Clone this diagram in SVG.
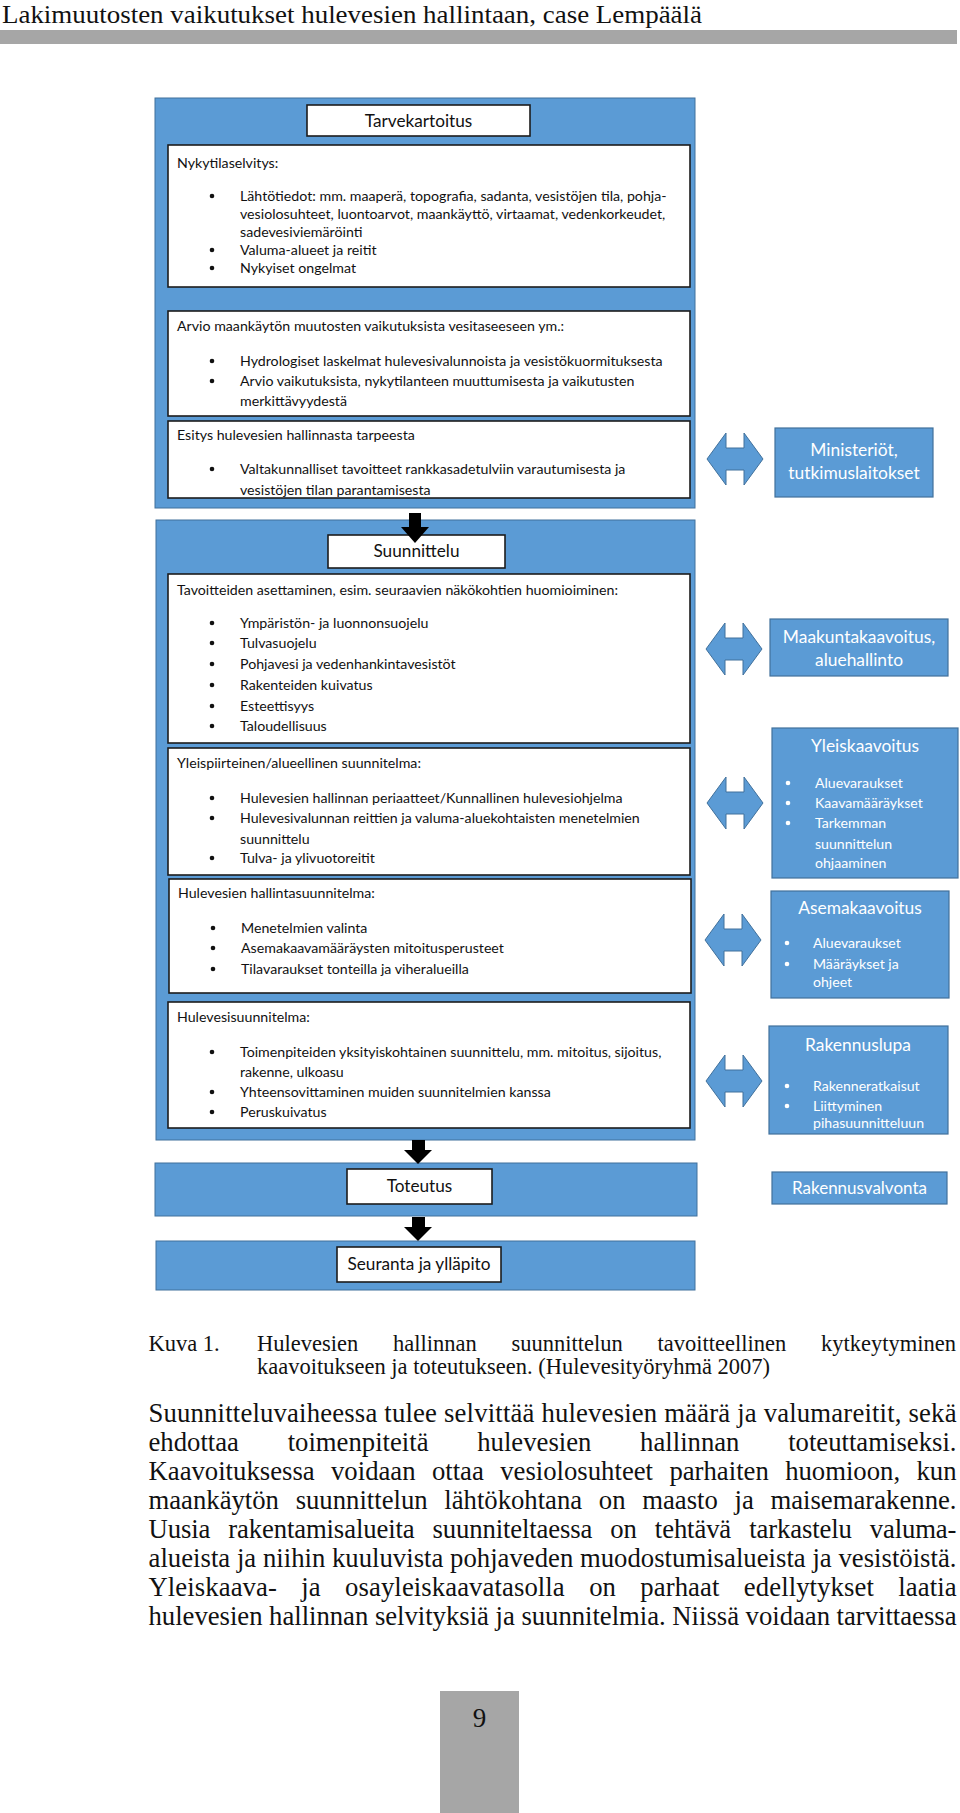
<svg xmlns="http://www.w3.org/2000/svg" width="960" height="1813" viewBox="0 0 960 1813">
<style>
.pg{fill:#ffffff}
.panel{fill:#5b9bd5;stroke:#41719c;stroke-width:1}
.box{fill:#ffffff;stroke:#1c1c1c;stroke-width:1.6}
.rbox{fill:#5b9bd5;stroke:#41719c;stroke-width:1.2}
.dbl{fill:#5b9bd5;stroke:#41719c;stroke-width:1}
.blk{fill:#000000}
.t{font-family:Lato,"Carlito","Liberation Sans",sans-serif;font-size:14.2px;fill:#111111}
.th{font-family:Lato,"Carlito","Liberation Sans",sans-serif;font-size:17.2px;fill:#111111;text-anchor:middle}
.rh{font-family:Lato,"Carlito","Liberation Sans",sans-serif;font-size:17.4px;fill:#ffffff;text-anchor:middle}
.rt{font-family:Lato,"Carlito","Liberation Sans",sans-serif;font-size:14.1px;fill:#ffffff}
.bul{fill:#111111}
.wb{fill:#ffffff}
.serif{font-family:"Liberation Serif","Times New Roman",serif;fill:#111111}
.hdr{font-size:26px}
.cap{font-size:22.5px}
.body{font-size:26.7px}
.gray{fill:#a6a6a6}
</style>
<defs>
<path id="dblarrow" d="M -28 0 L -9 -26 L -9 -11 L 9 -11 L 9 -26 L 28 0 L 9 26 L 9 11 L -9 11 L -9 26 Z"/>
<clipPath id="clipEsitys"><rect x="168" y="421" width="522" height="76"/></clipPath>
<clipPath id="clipRak"><rect x="769" y="1026" width="179" height="105"/></clipPath>
</defs>
<rect class="pg" x="0" y="0" width="960" height="1813"/>

<g id="page-header">
<text class="serif hdr" x="2" y="23" textLength="700" lengthAdjust="spacingAndGlyphs">Lakimuutosten vaikutukset hulevesien hallintaan, case Lempäälä</text>
<rect class="gray" x="0" y="30" width="957" height="14"/>
</g>

<g id="panel-tarvekartoitus">
<rect class="panel" x="155" y="98" width="540" height="410"/>
<rect class="box" x="307" y="105" width="223" height="31"/>
<text class="th" x="418.5" y="127">Tarvekartoitus</text>
</g>

<g id="node-nykytila">
<rect class="box" x="168" y="145" width="522" height="142"/>
<text class="t" x="177" y="168">Nykytilaselvitys:</text>
<circle class="bul" cx="212" cy="196" r="2.3"/>
<text class="t" x="240" y="201">Lähtötiedot: mm. maaperä, topografia, sadanta, vesistöjen tila, pohja-</text>
<text class="t" x="240" y="219">vesiolosuhteet, luontoarvot, maankäyttö, virtaamat, vedenkorkeudet,</text>
<text class="t" x="240" y="237">sadevesiviemäröinti</text>
<circle class="bul" cx="212" cy="250" r="2.3"/>
<text class="t" x="240" y="255">Valuma-alueet ja reitit</text>
<circle class="bul" cx="212" cy="268" r="2.3"/>
<text class="t" x="240" y="273">Nykyiset ongelmat</text>
</g>

<g id="node-arvio">
<rect class="box" x="168" y="311" width="522" height="105"/>
<text class="t" x="177" y="331">Arvio maankäytön muutosten vaikutuksista vesitaseeseen ym.:</text>
<circle class="bul" cx="212" cy="361" r="2.3"/>
<text class="t" x="240" y="366">Hydrologiset laskelmat hulevesivalunnoista ja vesistökuormituksesta</text>
<circle class="bul" cx="212" cy="381" r="2.3"/>
<text class="t" x="240" y="386">Arvio vaikutuksista, nykytilanteen muuttumisesta ja vaikutusten</text>
<text class="t" x="240" y="406">merkittävyydestä</text>
</g>

<g id="node-esitys">
<rect class="box" x="168" y="421" width="522" height="77"/>
<text class="t" x="177" y="440">Esitys hulevesien hallinnasta tarpeesta</text>
<circle class="bul" cx="212" cy="469" r="2.3"/>
<text class="t" x="240" y="474">Valtakunnalliset tavoitteet rankkasadetulviin varautumisesta ja</text>
<text class="t" x="240" y="495" clip-path="url(#clipEsitys)">vesistöjen tilan parantamisesta</text>
</g>

<g id="node-ministeriot">
<rect class="rbox" x="775" y="428" width="158" height="69"/>
<text class="rh" x="854" y="456">Ministeriöt,</text>
<text class="rh" x="854" y="479">tutkimuslaitokset</text>
</g>

<g id="panel-suunnittelu">
<rect class="panel" x="156" y="520" width="539" height="620"/>
<rect class="box" x="328" y="535" width="177" height="33"/>
<text class="th" x="416.5" y="557">Suunnittelu</text>
</g>

<g id="node-tavoitteet">
<rect class="box" x="168" y="574" width="522" height="169"/>
<text class="t" x="177" y="595">Tavoitteiden asettaminen, esim. seuraavien näkökohtien huomioiminen:</text>
<circle class="bul" cx="212" cy="623" r="2.3"/>
<text class="t" x="240" y="628">Ympäristön- ja luonnonsuojelu</text>
<circle class="bul" cx="212" cy="643" r="2.3"/>
<text class="t" x="240" y="648">Tulvasuojelu</text>
<circle class="bul" cx="212" cy="664" r="2.3"/>
<text class="t" x="240" y="669">Pohjavesi ja vedenhankintavesistöt</text>
<circle class="bul" cx="212" cy="685" r="2.3"/>
<text class="t" x="240" y="690">Rakenteiden kuivatus</text>
<circle class="bul" cx="212" cy="706" r="2.3"/>
<text class="t" x="240" y="711">Esteettisyys</text>
<circle class="bul" cx="212" cy="726" r="2.3"/>
<text class="t" x="240" y="731">Taloudellisuus</text>
</g>

<g id="node-yleispiirteinen">
<rect class="box" x="168" y="748" width="522" height="127"/>
<text class="t" x="177" y="768">Yleispiirteinen/alueellinen suunnitelma:</text>
<circle class="bul" cx="212" cy="798" r="2.3"/>
<text class="t" x="240" y="803">Hulevesien hallinnan periaatteet/Kunnallinen hulevesiohjelma</text>
<circle class="bul" cx="212" cy="818" r="2.3"/>
<text class="t" x="240" y="823">Hulevesivalunnan reittien ja valuma-aluekohtaisten menetelmien</text>
<text class="t" x="240" y="844">suunnittelu</text>
<circle class="bul" cx="212" cy="858" r="2.3"/>
<text class="t" x="240" y="863">Tulva- ja ylivuotoreitit</text>
</g>

<g id="node-hallintasuunnitelma">
<rect class="box" x="169" y="879" width="522" height="114"/>
<text class="t" x="178" y="898">Hulevesien hallintasuunnitelma:</text>
<circle class="bul" cx="213" cy="928" r="2.3"/>
<text class="t" x="241" y="933">Menetelmien valinta</text>
<circle class="bul" cx="213" cy="948" r="2.3"/>
<text class="t" x="241" y="953">Asemakaavamääräysten mitoitusperusteet</text>
<circle class="bul" cx="213" cy="969" r="2.3"/>
<text class="t" x="241" y="974">Tilavaraukset tonteilla ja viheralueilla</text>
</g>

<g id="node-hulevesisuunnitelma">
<rect class="box" x="168" y="1002" width="522" height="126"/>
<text class="t" x="177" y="1022">Hulevesisuunnitelma:</text>
<circle class="bul" cx="212" cy="1052" r="2.3"/>
<text class="t" x="240" y="1057">Toimenpiteiden yksityiskohtainen suunnittelu, mm. mitoitus, sijoitus,</text>
<text class="t" x="240" y="1077">rakenne, ulkoasu</text>
<circle class="bul" cx="212" cy="1092" r="2.3"/>
<text class="t" x="240" y="1097">Yhteensovittaminen muiden suunnitelmien kanssa</text>
<circle class="bul" cx="212" cy="1112" r="2.3"/>
<text class="t" x="240" y="1117">Peruskuivatus</text>
</g>

<g id="node-maakunta">
<rect class="rbox" x="770" y="619" width="178" height="57"/>
<text class="rh" x="859" y="643">Maakuntakaavoitus,</text>
<text class="rh" x="859" y="666">aluehallinto</text>
</g>

<g id="node-yleiskaavoitus">
<rect class="rbox" x="772" y="728" width="186" height="150"/>
<text class="rh" x="865" y="752">Yleiskaavoitus</text>
<circle class="wb" cx="788" cy="783" r="2.3"/>
<text class="rt" x="815" y="788">Aluevaraukset</text>
<circle class="wb" cx="788" cy="803" r="2.3"/>
<text class="rt" x="815" y="808">Kaavamääräykset</text>
<circle class="wb" cx="788" cy="823" r="2.3"/>
<text class="rt" x="815" y="828">Tarkemman</text>
<text class="rt" x="815" y="849">suunnittelun</text>
<text class="rt" x="815" y="868">ohjaaminen</text>
</g>

<g id="node-asemakaavoitus">
<rect class="rbox" x="771" y="891" width="178" height="107"/>
<text class="rh" x="860" y="914">Asemakaavoitus</text>
<circle class="wb" cx="787" cy="943" r="2.3"/>
<text class="rt" x="813" y="948">Aluevaraukset</text>
<circle class="wb" cx="787" cy="964" r="2.3"/>
<text class="rt" x="813" y="969">Määräykset ja</text>
<text class="rt" x="813" y="987">ohjeet</text>
</g>

<g id="node-rakennuslupa">
<rect class="rbox" x="769" y="1026" width="179" height="108"/>
<text class="rh" x="858" y="1051">Rakennuslupa</text>
<circle class="wb" cx="787" cy="1086" r="2.3"/>
<text class="rt" x="813" y="1091">Rakenneratkaisut</text>
<circle class="wb" cx="787" cy="1106" r="2.3"/>
<text class="rt" x="813" y="1111">Liittyminen</text>
<text class="rt" x="813" y="1128" clip-path="url(#clipRak)">pihasuunnitteluun</text>
</g>

<g id="panel-toteutus">
<rect class="panel" x="155" y="1163" width="542" height="53"/>
<rect class="box" x="347" y="1169" width="145" height="35"/>
<text class="th" x="419.5" y="1192">Toteutus</text>
</g>

<g id="node-rakennusvalvonta">
<rect class="rbox" x="772" y="1172" width="175" height="32"/>
<text class="rh" x="859.5" y="1194" style="font-size:17px">Rakennusvalvonta</text>
</g>

<g id="panel-seuranta">
<rect class="panel" x="156" y="1241" width="539" height="49"/>
<rect class="box" x="337" y="1247" width="164" height="35"/>
<text class="th" x="419" y="1270">Seuranta ja ylläpito</text>
</g>

<g id="connectors">
<rect class="blk" x="409" y="513" width="12" height="15"/>
<polygon class="blk" points="401,527 429,527 415,543"/>
<rect class="blk" x="412" y="1140" width="13" height="11"/>
<polygon class="blk" points="404,1150 432,1150 418,1164"/>
<rect class="blk" x="412" y="1217" width="13" height="11"/>
<polygon class="blk" points="404,1227 432,1227 418,1241"/>
<use href="#dblarrow" class="dbl" transform="translate(735,459)"/>
<use href="#dblarrow" class="dbl" transform="translate(734,649)"/>
<use href="#dblarrow" class="dbl" transform="translate(735,803)"/>
<use href="#dblarrow" class="dbl" transform="translate(733,940)"/>
<use href="#dblarrow" class="dbl" transform="translate(734,1081)"/>
</g>

<g id="caption">
<text class="serif cap" x="148.5" y="1350.5">Kuva 1.</text>
<text class="serif cap" x="257" y="1350.5" textLength="699" lengthAdjust="spacing" style="word-spacing:29px">Hulevesien hallinnan suunnittelun tavoitteellinen kytkeytyminen</text>
<text class="serif cap" x="257" y="1373.5">kaavoitukseen ja toteutukseen. (Hulevesityöryhmä 2007)</text>
</g>

<g id="body-text">
<text class="serif body" x="148.5" y="1422" textLength="808" lengthAdjust="spacing">Suunnitteluvaiheessa tulee selvittää hulevesien määrä ja valumareitit, sekä</text>
<text class="serif body" x="148.5" y="1451" textLength="808" lengthAdjust="spacing" style="word-spacing:42px">ehdottaa toimenpiteitä hulevesien hallinnan toteuttamiseksi.</text>
<text class="serif body" x="148.5" y="1480" textLength="808" lengthAdjust="spacing" style="word-spacing:9.7px">Kaavoituksessa voidaan ottaa vesiolosuhteet parhaiten huomioon, kun</text>
<text class="serif body" x="148.5" y="1509" textLength="808" lengthAdjust="spacing" style="word-spacing:10px">maankäytön suunnittelun lähtökohtana on maasto ja maisemarakenne.</text>
<text class="serif body" x="148.5" y="1538" textLength="808" lengthAdjust="spacing" style="word-spacing:11.5px">Uusia rakentamisalueita suunniteltaessa on tehtävä tarkastelu valuma-</text>
<text class="serif body" x="148.5" y="1567" textLength="808" lengthAdjust="spacing">alueista ja niihin kuuluvista pohjaveden muodostumisalueista ja vesistöistä.</text>
<text class="serif body" x="148.5" y="1596" textLength="808" lengthAdjust="spacing" style="word-spacing:17.6px">Yleiskaava- ja osayleiskaavatasolla on parhaat edellytykset laatia</text>
<text class="serif body" x="148.5" y="1625" textLength="808" lengthAdjust="spacing">hulevesien hallinnan selvityksiä ja suunnitelmia. Niissä voidaan tarvittaessa</text>
</g>

<g id="page-number">
<rect class="gray" x="440" y="1691" width="79" height="122"/>
<text class="serif" x="479.5" y="1727" style="font-size:27px" text-anchor="middle">9</text>
</g>
</svg>
